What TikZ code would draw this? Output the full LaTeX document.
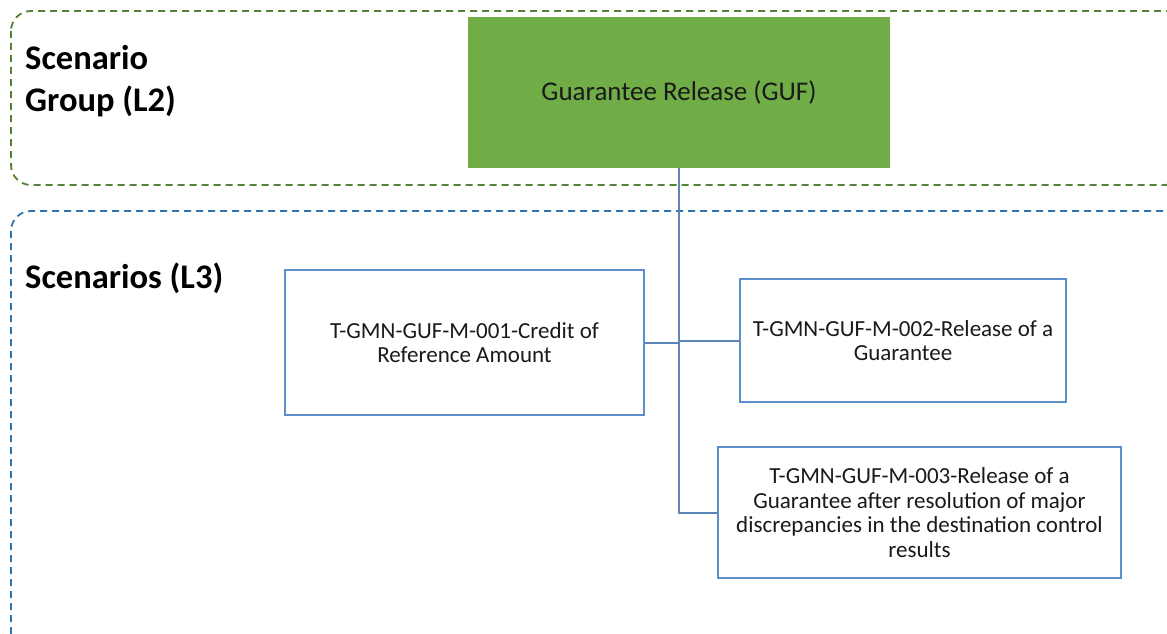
\documentclass[tikz,border=0pt]{standalone}
\usepackage{fontspec}
\setmainfont{Carlito}
\definecolor{grpgreen}{HTML}{70AD47}
\definecolor{grpdash}{HTML}{548235}
\definecolor{scndash}{HTML}{2E75B6}
\definecolor{boxblue}{HTML}{5B8FCB}
\definecolor{linkblue}{HTML}{5A86B8}
\definecolor{txt}{HTML}{1A1A1A}
\tikzset{
  groupframe/.style={dashed, dash pattern=on 7pt off 5pt, line width=1.8pt, rounded corners=20pt},
  scnbox/.style={draw=boxblue, line width=1.5pt, fill=white, align=center, text=txt,
    font=\fontsize{23}{24.8}\selectfont, inner sep=0pt},
  heading/.style={font=\bfseries\fontsize{34.5}{42}\selectfont, align=left, anchor=west, inner sep=0pt, text=black},
  link/.style={draw=linkblue, line width=2pt}
}
\begin{document}
\begin{tikzpicture}[x=1pt,y=-1pt]
\useasboundingbox (0,0) rectangle (1167,634);
\clip (0,0) rectangle (1167,634);
\fill[white] (0,0) rectangle (1167,634);
% group frames
\draw[groupframe, draw=grpdash] (11,11) rectangle (1185,185);
\draw[groupframe, draw=scndash] (11,211) rectangle (1185,680);
% headings
\node[heading] (h2) at (25,81) {Scenario\\Group (L2)};
\node[heading] (h3) at (25,278) {Scenarios (L3)};
% nodes
\node[fill=grpgreen, minimum width=422pt, minimum height=151pt, inner sep=0pt, text=txt,
  font=\fontsize{27}{30}\selectfont] (guf) at (679,92.5) {Guarantee Release (GUF)};
\node[scnbox, minimum width=359pt, minimum height=145pt] (b1) at (464.5,342.5)
  {T-GMN-GUF-M-001-Credit of\\Reference Amount};
\node[scnbox, minimum width=326pt, minimum height=123pt] (b2) at (903,340.5)
  {T-GMN-GUF-M-002-Release of a\\Guarantee};
\node[scnbox, minimum width=403pt, minimum height=131pt] (b3) at (919.5,512.5)
  {T-GMN-GUF-M-003-Release of a\\Guarantee after resolution of major\\discrepancies in the destination control\\results};
% connectors
\draw[link] (guf.south) |- (b3.west);
\draw[link] (b1.east) -- (b1.east -| guf.south);
\draw[link] (b2.west) -- (b2.west -| guf.south);
\end{tikzpicture}
\end{document}
